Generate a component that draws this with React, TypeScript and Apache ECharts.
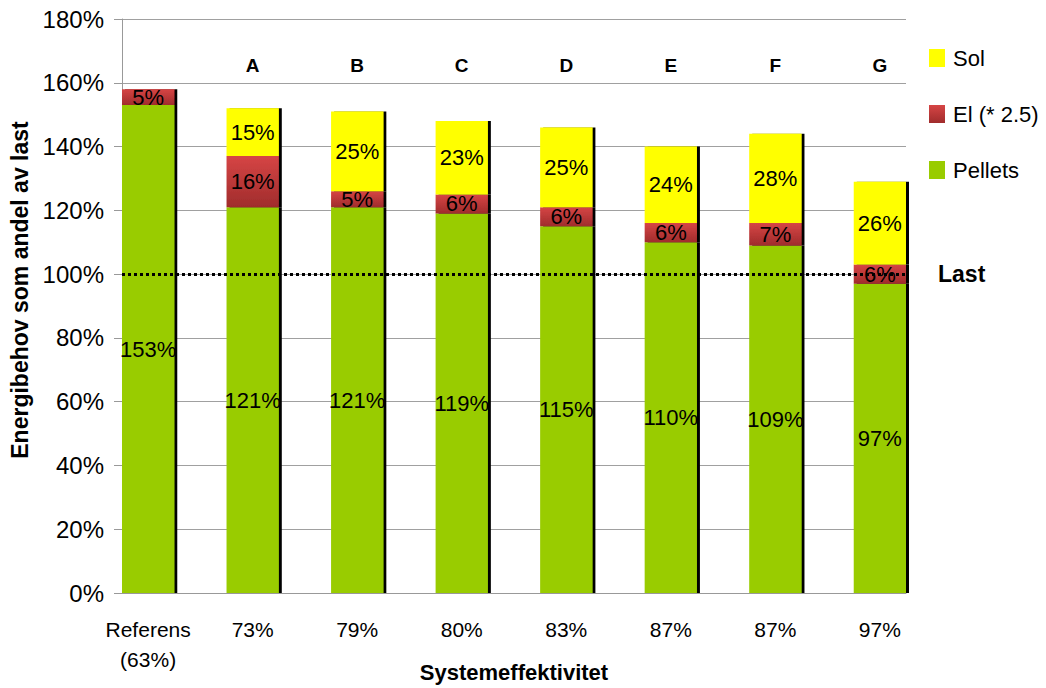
import React, { useEffect, useRef } from "react";
import * as echarts from "echarts";

const categories = ["Referens\n(63%)", "73%", "79%", "80%", "83%", "87%", "87%", "97%"];
const letters = ["", "A", "B", "C", "D", "E", "F", "G"];
const pellets = [153, 121, 121, 119, 115, 110, 109, 97];
const el = [5, 16, 5, 6, 6, 6, 7, 6];
const sol: (number | null)[] = [null, 15, 25, 23, 25, 24, 28, 26];
const yTicks = [0, 20, 40, 60, 80, 100, 120, 140, 160, 180];
const lastLevel = 100;

// Bars sit in every other slot of a 15-slot axis (gap slots between them)
function spread<T>(arr: T[], empty: T): T[] {
  const out: T[] = [];
  arr.forEach((v, i) => {
    out.push(v);
    if (i < arr.length - 1) out.push(empty);
  });
  return out;
}

const FONT = "Liberation Sans, Arial, sans-serif";

export default function App() {
  const ref = useRef<HTMLDivElement>(null);
  useEffect(() => {
    if (!ref.current) return;
    const chart = echarts.init(ref.current, undefined, { renderer: "svg" });
    const slotCats = spread(categories, "");
    const slotLetters = spread(letters, "");
    const shadow = { shadowColor: "#000", shadowOffsetX: 3, shadowOffsetY: 0, shadowBlur: 0 };
    const label = {
      show: true,
      position: "inside" as const,
      formatter: "{c}%",
      color: "#000",
      fontSize: 22,
      fontFamily: FONT,
    };
    chart.setOption({
      animation: false,
      textStyle: { fontFamily: FONT },
      grid: {
        left: 122,
        right: 140,
        top: 19,
        bottom: 95,
        containLabel: false,
        outerBoundsMode: "none",
      },
      legend: {
        orient: "vertical",
        left: 929,
        top: 47,
        padding: 0,
        itemWidth: 16,
        itemHeight: 18,
        itemGap: 34,
        icon: "rect",
        data: ["Sol", "El (* 2.5)", "Pellets"],
        textStyle: { fontSize: 22, color: "#000", fontFamily: FONT, padding: [0, 0, 0, 3] },
      },
      xAxis: [
        {
          type: "category",
          data: slotCats,
          position: "bottom",
          axisLine: { lineStyle: { color: "#999" } },
          axisTick: { interval: 0, length: 7, lineStyle: { color: "#999" } },
          axisLabel: {
            interval: 0,
            color: "#000",
            fontSize: 21,
            lineHeight: 30,
            margin: 21,
            fontFamily: FONT,
          },
        },
        {
          type: "category",
          data: slotLetters,
          position: "top",
          axisLine: { show: false },
          axisTick: { show: false },
          axisLabel: {
            inside: true,
            interval: 0,
            margin: 37,
            color: "#000",
            fontSize: 19,
            fontWeight: "bold",
            fontFamily: FONT,
          },
        },
      ],
      yAxis: {
        type: "value",
        min: yTicks[0],
        max: yTicks[yTicks.length - 1],
        interval: 20,
        axisLine: { show: true, lineStyle: { color: "#999" } },
        axisTick: { show: true, length: 8, lineStyle: { color: "#999" } },
        axisLabel: { formatter: "{value}%", color: "#000", fontSize: 24, margin: 18, fontFamily: FONT },
        splitLine: { lineStyle: { color: "#a0a0a0", width: 1 } },
      },
      graphic: [
        {
          type: "text",
          x: 20,
          y: 290,
          rotation: Math.PI / 2,
          style: {
            text: "Energibehov som andel av last",
            fontSize: 23,
            fontWeight: "bold",
            fontFamily: FONT,
            fill: "#000",
            textAlign: "center",
            textVerticalAlign: "middle",
          },
        },
        {
          type: "text",
          x: 514,
          y: 672,
          style: {
            text: "Systemeffektivitet",
            fontSize: 22,
            fontWeight: "bold",
            fontFamily: FONT,
            fill: "#000",
            textAlign: "center",
            textVerticalAlign: "middle",
          },
        },
      ],
      series: [
        {
          name: "Pellets",
          type: "bar",
          stack: "total",
          barWidth: "100%",
          data: spread<number | null>(pellets, null),
          itemStyle: { color: "#99cc00", ...shadow },
          label,
          silent: true,
        },
        {
          name: "El (* 2.5)",
          type: "bar",
          stack: "total",
          barWidth: "100%",
          data: spread<number | null>(el, null),
          itemStyle: {
            color: new echarts.graphic.LinearGradient(0, 0, 0, 1, [
              { offset: 0, color: "#d64545" },
              { offset: 1, color: "#a02c2c" },
            ]),
            ...shadow,
          },
          label,
          silent: true,
        },
        {
          name: "Sol",
          type: "bar",
          stack: "total",
          barWidth: "100%",
          data: spread<number | null>(sol, null),
          itemStyle: { color: "#ffff00", ...shadow },
          label,
          silent: true,
          markLine: {
            silent: true,
            symbol: "none",
            z: 10,
            lineStyle: { color: "#000", type: [3, 3], width: 3 },
            label: {
              show: true,
              position: "end",
              formatter: "Last",
              distance: 32,
              fontSize: 23,
              fontWeight: "bold",
              color: "#000",
              fontFamily: FONT,
            },
            data: [{ yAxis: lastLevel }],
          },
        },
      ],
    });
    return () => chart.dispose();
  }, []);
  return (
    <div
      ref={ref}
      style={{ position: "absolute", left: 0, top: 0, width: 1046, height: 688 }}
    />
  );
}
